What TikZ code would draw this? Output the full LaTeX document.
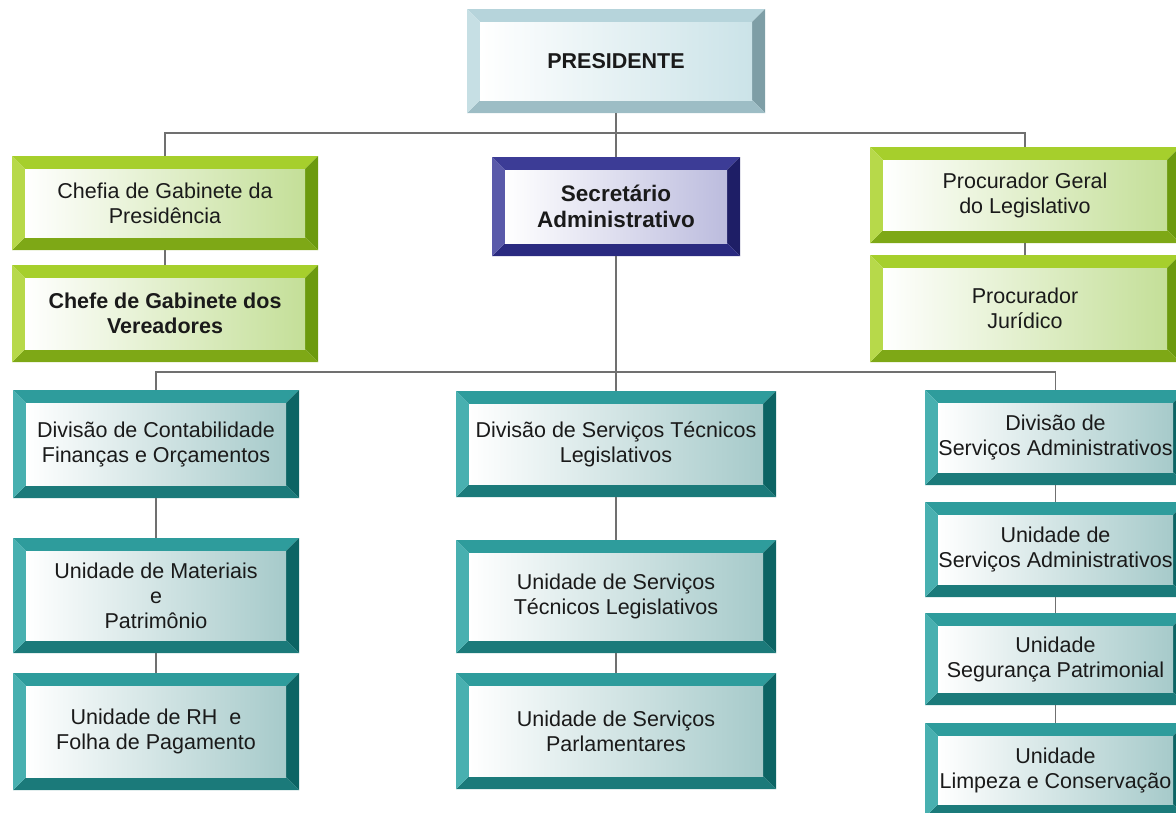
\documentclass[tikz,border=0pt]{standalone}
\usepackage{fontspec}
\setmainfont{Liberation Sans}
\definecolor{txt}{HTML}{1A1A1A}
\definecolor{conncol}{HTML}{707070}
% pale blue (president)
\definecolor{pbT}{HTML}{B6D4DB}
\definecolor{pbL}{HTML}{C6DFE4}
\definecolor{pbR}{HTML}{7E9EA6}
\definecolor{pbB}{HTML}{9DBDC5}
\definecolor{pbF}{HTML}{CBE3E8}
% green
\definecolor{grT}{HTML}{A6CF2C}
\definecolor{grL}{HTML}{B7D94A}
\definecolor{grR}{HTML}{6C9A0E}
\definecolor{grB}{HTML}{7EA816}
\definecolor{grF}{HTML}{C4DF98}
% navy
\definecolor{nvT}{HTML}{3C3C96}
\definecolor{nvL}{HTML}{5A5AAA}
\definecolor{nvR}{HTML}{1E1E66}
\definecolor{nvB}{HTML}{2A2A80}
\definecolor{nvF}{HTML}{BCBCDE}
% teal
\definecolor{tlT}{HTML}{2E9C9C}
\definecolor{tlL}{HTML}{48B0B0}
\definecolor{tlR}{HTML}{0C6464}
\definecolor{tlB}{HTML}{1B7A7A}
\definecolor{tlF}{HTML}{A6CACA}
\newcommand{\bw}{13pt}
\tikzset{
  bevel/.style n args={5}{fill=white, draw=none, inner sep=0pt, outer sep=0pt,
    align=center, text=txt, font=\fontsize{21.5}{25}\selectfont,
    path picture={
      \path (path picture bounding box.north west) coordinate (ppnw)
            (path picture bounding box.north east) coordinate (ppne)
            (path picture bounding box.south east) coordinate (ppse)
            (path picture bounding box.south west) coordinate (ppsw);
      \path ([shift={(\bw,-\bw)}]ppnw) coordinate (inw)
            ([shift={(-\bw,-\bw)}]ppne) coordinate (ine)
            ([shift={(-\bw,\bw)}]ppse) coordinate (ise)
            ([shift={(\bw,\bw)}]ppsw) coordinate (isw);
      \fill[#1] (ppnw) -- (ppne) -- (ine) -- (inw) -- cycle;
      \fill[#3] (ppne) -- (ppse) -- (ise) -- (ine) -- cycle;
      \fill[#4] (ppse) -- (ppsw) -- (isw) -- (ise) -- cycle;
      \fill[#2] (ppsw) -- (ppnw) -- (inw) -- (isw) -- cycle;
      \shade[left color=white, middle color=#5!30!white, right color=#5] (inw) rectangle (ise);
    }},
  paleblue/.style={bevel={pbT}{pbL}{pbR}{pbB}{pbF}},
  greenbox/.style={bevel={grT}{grL}{grR}{grB}{grF}},
  navybox/.style={bevel={nvT}{nvL}{nvR}{nvB}{nvF}},
  tealbox/.style={bevel={tlT}{tlL}{tlR}{tlB}{tlF}},
  conn/.style={draw=conncol, line width=1.8pt},
}
\begin{document}
\begin{tikzpicture}[x=1pt,y=-1pt]
\useasboundingbox (0,0) rectangle (1176,812);
\clip (0,0) rectangle (1176,812);
% top
\node[paleblue, minimum width=298pt, minimum height=104pt] (pres) at (616,61) {\bfseries PRESIDENTE};
\node[greenbox, minimum width=306pt, minimum height=94pt] (chefia) at (165,203) {Chefia de Gabinete da\\Presidência};
\node[greenbox, minimum width=306pt, minimum height=97pt] (vere) at (165,313.5) {\bfseries Chefe de Gabinete dos\\\bfseries Vereadores};
\node[navybox, minimum width=248pt, minimum height=99pt, font=\fontsize{22.5}{26}\selectfont\bfseries] (sec) at (616,206.5) {Secretário\\Administrativo};
\node[greenbox, minimum width=310pt, minimum height=96pt] (procg) at (1025,195) {Procurador Geral\\do Legislativo};
\node[greenbox, minimum width=310pt, minimum height=107pt] (procj) at (1025,308.5) {Procurador\\Jurídico};
% lower left
\node[tealbox, minimum width=286pt, minimum height=108pt] (divcont) at (156,444) {Divisão de Contabilidade\\Finanças e Orçamentos};
\node[tealbox, minimum width=286pt, minimum height=115pt] (unmat) at (156,595.5) {Unidade de Materiais\\e\\Patrimônio};
\node[tealbox, minimum width=286pt, minimum height=117pt] (unrh) at (156,731.5) {Unidade de RH\ \ e\\Folha de Pagamento};
% lower middle
\node[tealbox, minimum width=320pt, minimum height=106pt] (divtec) at (616,444) {Divisão de Serviços Técnicos\\Legislativos};
\node[tealbox, minimum width=320pt, minimum height=113pt] (untec) at (616,596.5) {Unidade de Serviços\\Técnicos Legislativos};
\node[tealbox, minimum width=320pt, minimum height=116pt] (unparl) at (616,731) {Unidade de Serviços\\Parlamentares};
% lower right
\node[tealbox, minimum width=261pt, minimum height=95pt] (divadm) at (1055.5,437.5) {Divisão de\\Serviços Administrativos};
\node[tealbox, minimum width=261pt, minimum height=95pt] (unadm) at (1055.5,549.5) {Unidade de\\Serviços Administrativos};
\node[tealbox, minimum width=261pt, minimum height=92pt] (unseg) at (1055.5,659) {Unidade\\Segurança Patrimonial};
\node[tealbox, minimum width=261pt, minimum height=94pt] (unlimp) at (1055.5,770) {Unidade\\Limpeza e Conservação};
% connectors
\coordinate (bus1) at (616,133);
\coordinate (bus2) at (616,372);
\draw[conn] (pres.south) -- (sec.north);
\draw[conn] (chefia.north) |- (bus1) -| (procg.north);
\draw[conn] (chefia.south) -- (vere.north);
\draw[conn] (procg.south) -- (procj.north);
\draw[conn] (sec.south) -- (divtec.north);
\draw[conn] (divcont.north) |- (bus2) -| (divadm.north);
\draw[conn] (divcont.south) -- (unmat.north);
\draw[conn] (unmat.south) -- (unrh.north);
\draw[conn] (divtec.south) -- (untec.north);
\draw[conn] (untec.south) -- (unparl.north);
\draw[conn] (divadm.south) -- (unadm.north);
\draw[conn] (unadm.south) -- (unseg.north);
\draw[conn] (unseg.south) -- (unlimp.north);
\end{tikzpicture}
\end{document}
